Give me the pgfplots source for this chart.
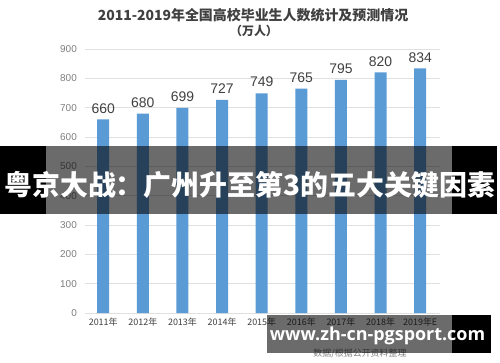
\documentclass[border=0pt]{standalone}
\usepackage{fontspec}
\setmainfont{Noto Sans CJK SC}
\newfontfamily\numfont{Liberation Sans}
\newfontfamily\wmfont{Open Sans}
\usepackage{pgfplots}
\pgfplotsset{compat=1.18}
\definecolor{barblue}{HTML}{5B9BD5}
\definecolor{txtdark}{HTML}{404040}
\definecolor{ticktxt}{HTML}{7F7F7F}
\definecolor{gridc}{HTML}{E0E0E0}
\begin{document}
\begin{tikzpicture}[x=1bp,y=1bp]
\fill[white] (0,0) rectangle (500,362);
\begin{axis}[
  at={(85bp,49bp)}, anchor=south west,
  scale only axis, width=355bp, height=264bp,
  ybar, bar width=12bp,
  xmin=-0.46, xmax=8.5, ymin=0, ymax=900,
  ytick={0,100,...,900},
  xtick=data,
  xticklabels={2011年,2012年,2013年,2014年,2015年,2016年,2017年,2018年,2019年E},
  axis line style={draw=none},
  axis x line*=bottom,
  ymajorgrids, grid style={gridc, line width=0.8pt},
  major tick length=0pt,
  /pgf/number format/assume math mode=true,
  yticklabel style={font=\numfont\fontsize{10}{12}\selectfont, text=ticktxt, anchor=east, inner sep=0pt, xshift=-8bp},
  xticklabel style={font=\fontsize{9}{11}\selectfont, text=txtdark, anchor=north, inner sep=0pt, yshift=-5bp},
  nodes near coords,
  every node near coord/.append style={font=\numfont\fontsize{14}{16}\selectfont, text=txtdark, inner sep=0pt, anchor=south, yshift=6bp},
  clip=false,
]
\draw[gridc, line width=0.8pt] (axis cs:-0.46,0) -- (axis cs:8.5,0);
\addplot[fill=barblue, draw=none] coordinates {(0,660) (1,680) (2,699) (3,727) (4,749) (5,765) (6,795) (7,820) (8,834)};
\end{axis}
% title
\node[font=\bfseries\fontsize{14}{16}\selectfont, text=txtdark] at (253,347) {2011-2019年全国高校毕业生人数统计及预测情况};
\node[font=\bfseries\fontsize{12}{14}\selectfont, text=txtdark] at (254,331) {（万人）};
% source note
\node[font=\fontsize{9}{11}\selectfont, text=ticktxt] at (360,8) {数据/根据公开资料整理};
% banner overlay
\fill[black, opacity=0.58] (46,148) rectangle (452,216);
\fill[black] (0,148) rectangle (46,216);
\fill[black] (452,148) rectangle (497,216);
\node[font=\bfseries\fontsize{28}{30}\selectfont, text=white] at (250,177) {粤京大战：广州升至第3的五大关键因素};
% bottom watermark
\fill[black, opacity=0.58] (267,9) rectangle (452,47);
\fill[black] (452,9) rectangle (491,47);
\node[font=\wmfont\bfseries\fontsize{18}{20}\selectfont, text=white] at (377.5,26) {www.zh-cn-pgsport.com};
\pgfresetboundingbox
\path (0,0) rectangle (500,362);
\end{tikzpicture}
\end{document}
